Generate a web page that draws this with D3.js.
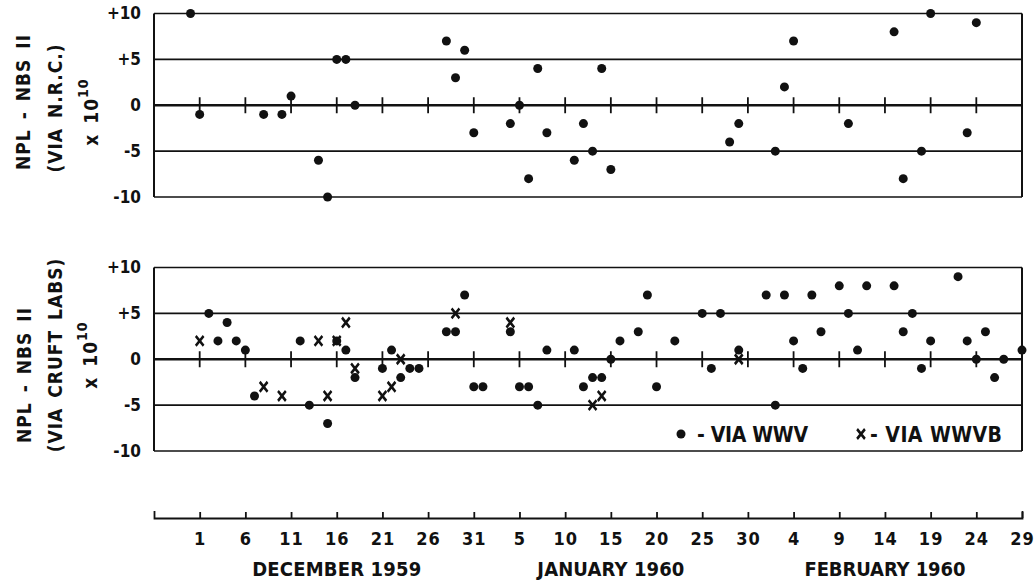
<!DOCTYPE html>
<html>
<head>
<meta charset="utf-8">
<script src="https://cdn.jsdelivr.net/npm/d3@7"></script>
<style>
  body { margin: 0; background: #fff; }
  svg text { font-family: "Liberation Sans Narrow", "DejaVu Sans Condensed", "Roboto Condensed", sans-serif; font-weight: bold; fill: #111; }
  .ytick text { font-size: 17px; }
  .xtick text { font-size: 18px; letter-spacing: 1px; }
  .title { font-size: 19px; letter-spacing: 1px; word-spacing: 3px; }
  .month { font-size: 20px; }
  .legend { font-size: 21px; }
</style>
</head>
<body>
<svg id="chart" width="1035" height="582"></svg>
<script>
// top panel: NPL - NBS II via N.R.C. (all WWV dots)
let nrcDates = ["1959-11-30","1959-12-01","1959-12-08","1959-12-10","1959-12-11","1959-12-14","1959-12-15","1959-12-16","1959-12-17","1959-12-18",
  "1959-12-28","1959-12-29","1959-12-30","1959-12-31","1960-01-04","1960-01-05","1960-01-06","1960-01-07","1960-01-08","1960-01-11",
  "1960-01-12","1960-01-13","1960-01-14","1960-01-15","1960-01-28","1960-01-29","1960-02-02","1960-02-03","1960-02-04","1960-02-10",
  "1960-02-15","1960-02-16","1960-02-18","1960-02-19","1960-02-23","1960-02-24"];
let nrcValues = [10,-1,-1,-1,1,-6,-10,5,5,0,
  7,3,6,-3,-2,0,-8,4,-3,-6,
  -2,-5,4,-7,-4,-2,-5,2,7,-2,
  8,-8,-5,10,-3,9];

// bottom panel: via Cruft Labs, WWV (dots)
let wwvDates = ["1959-12-02","1959-12-03","1959-12-04","1959-12-05","1959-12-06","1959-12-07","1959-12-12","1959-12-13","1959-12-15","1959-12-16",
  "1959-12-17","1959-12-18","1959-12-21","1959-12-22","1959-12-23","1959-12-24","1959-12-25","1959-12-28","1959-12-29","1959-12-30",
  "1959-12-31","1960-01-01","1960-01-04","1960-01-05","1960-01-06","1960-01-07","1960-01-08","1960-01-11","1960-01-12","1960-01-13",
  "1960-01-14","1960-01-15","1960-01-16","1960-01-18","1960-01-19","1960-01-20","1960-01-22","1960-01-25","1960-01-26","1960-01-27",
  "1960-01-29","1960-02-01","1960-02-02","1960-02-03","1960-02-04","1960-02-05","1960-02-06","1960-02-07","1960-02-09","1960-02-10",
  "1960-02-11","1960-02-12","1960-02-15","1960-02-16","1960-02-17","1960-02-18","1960-02-19","1960-02-22","1960-02-23","1960-02-24",
  "1960-02-25","1960-02-26","1960-02-27","1960-02-29"];
let wwvValues = [5,2,4,2,1,-4,2,-5,-7,2,
  1,-2,-1,1,-2,-1,-1,3,3,7,
  -3,-3,3,-3,-3,-5,1,1,-3,-2,
  -2,0,2,3,7,-3,2,5,-1,5,
  1,7,-5,7,2,-1,7,3,8,5,
  1,8,8,3,5,-1,2,9,2,0,
  3,-2,0,1];

// bottom panel: via Cruft Labs, WWVB (crosses)
let wwvbDates = ["1959-12-01","1959-12-08","1959-12-10","1959-12-14","1959-12-15","1959-12-16","1959-12-17","1959-12-18","1959-12-21","1959-12-22",
  "1959-12-23","1959-12-29","1960-01-04","1960-01-13","1960-01-14","1960-01-29"];
let wwvbValues = [2,-3,-4,2,-4,2,4,-1,-4,-3,
  0,5,4,-5,-4,0];

let yTickValues = [-10,-5,0,5,10];
let xTickDates = ["1959-12-01","1959-12-06","1959-12-11","1959-12-16","1959-12-21","1959-12-26","1959-12-31","1960-01-05","1960-01-10","1960-01-15",
  "1960-01-20","1960-01-25","1960-01-30","1960-02-04","1960-02-09","1960-02-14","1960-02-19","1960-02-24","1960-02-29"];
let months = ["DECEMBER 1959","JANUARY 1960","FEBRUARY 1960"];
let monthMid = ["1959-12-16","1960-01-15","1960-02-14"];
let monthWidth = [169,147,161];

let parse = d3.timeParse("%Y-%m-%d");
let svg = d3.select("#chart");
let ink = "#111";

let x = d3.scaleTime()
    .domain([parse("1959-11-26"), parse("1960-02-29")])
    .range([154, 1022]);
let yTop = d3.scaleLinear().domain([-10, 10]).range([197, 13.5]);
let yBot = d3.scaleLinear().domain([-10, 10]).range([451, 267.5]);

let ticks = xTickDates.map(parse);

let panel = (y) => {
    let g = svg.append("g");
    g.selectAll("line.h").data(yTickValues).join("line")
        .attr("x1", x.range()[0]).attr("x2", x.range()[1])
        .attr("y1", d => y(d)).attr("y2", d => y(d))
        .attr("stroke", ink).attr("stroke-width", d => d === 0 ? 2.4 : 1.6);
    g.selectAll("line.v").data(x.range()).join("line")
        .attr("x1", d => d).attr("x2", d => d)
        .attr("y1", y(10)).attr("y2", y(-10))
        .attr("stroke", ink).attr("stroke-width", 2);
    // small ticks across the zero line
    g.selectAll("line.t").data(ticks).join("line")
        .attr("x1", d => x(d)).attr("x2", d => x(d))
        .attr("y1", y(0) - 8).attr("y2", y(0) + 8)
        .attr("stroke", ink).attr("stroke-width", 1.8);
    g.append("g")
        .attr("class", "ytick")
        .attr("transform", `translate(${x.range()[0]},0)`)
        .call(d3.axisLeft(y).tickValues(yTickValues).tickSize(0).tickPadding(13)
            .tickFormat(d => d > 0 ? "+" + d : d < 0 ? "-" + Math.abs(d) : "0"))
        .call(a => a.select(".domain").remove())
        .attr("font-family", null).attr("font-size", null);
    return g;
};

let gTop = panel(yTop);
let gBot = panel(yBot);

let dots = (g, y, dates, values) => {
    g.selectAll("circle.m" + dates.length).data(dates.map((d, i) => [parse(d), values[i]])).join("circle")
        .attr("cx", d => x(d[0])).attr("cy", d => y(d[1]))
        .attr("r", 4.5).attr("fill", ink);
};
let cross = d3.symbol(d3.symbolX).size(42);
let crosses = (g, y, dates, values) => {
    g.selectAll("path.x").data(dates.map((d, i) => [parse(d), values[i]])).join("path")
        .attr("class", "x")
        .attr("d", cross)
        .attr("transform", d => `translate(${x(d[0])},${y(d[1])}) scale(1,1.25)`)
        .attr("fill", "none").attr("stroke", ink).attr("stroke-width", 2.4);
};

dots(gTop, yTop, nrcDates, nrcValues);
dots(gBot, yBot, wwvDates, wwvValues);
crosses(gBot, yBot, wwvbDates, wwvbValues);

// rotated y titles
let title = (tx, ty, str) => svg.append("text").attr("class", "title")
    .attr("transform", `translate(${tx},${ty}) rotate(-90)`)
    .attr("text-anchor", "middle").text(str);
let power = (tx, ty) => {
    let t = svg.append("text").attr("class", "title")
        .attr("transform", `translate(${tx},${ty}) rotate(-90)`)
        .attr("text-anchor", "middle");
    t.append("tspan").text("x 10");
    t.append("tspan").attr("dy", -10).style("font-size", "14px").text("10");
};
title(30, 102, "NPL - NBS II");
title(62, 108, "(VIA N.R.C.)");
power(98, 112);
title(31, 375, "NPL - NBS II");
title(62, 355, "(VIA CRUFT LABS)");
power(97, 355);

// bottom date axis
svg.append("g")
    .attr("class", "xtick")
    .attr("transform", "translate(0,518)")
    .call(d3.axisBottom(x).tickValues(ticks).tickSizeInner(-6).tickSizeOuter(-7).tickPadding(14)
        .tickFormat(d3.timeFormat("%-d")))
    .attr("font-family", null).attr("font-size", null)
    .call(a => a.selectAll("path,line").attr("stroke", ink).attr("stroke-width", 1.8));

svg.selectAll("text.month").data(months).join("text")
    .attr("class", "month")
    .attr("x", (d, i) => x(parse(monthMid[i])) - monthWidth[i] / 2)
    .attr("y", 576)
    .attr("textLength", (d, i) => monthWidth[i])
    .attr("lengthAdjust", "spacing")
    .text(d => d);

// legend
let lg = svg.append("g");
lg.append("circle").attr("cx", 681).attr("cy", 434).attr("r", 4.5).attr("fill", ink);
lg.append("text").attr("class", "legend").attr("x", 697).attr("y", 442)
    .attr("textLength", 111).attr("lengthAdjust", "spacing").text("- VIA WWV");
lg.append("path").attr("d", cross)
    .attr("transform", "translate(861,434) scale(1,1.25)")
    .attr("fill", "none").attr("stroke", ink).attr("stroke-width", 2.4);
lg.append("text").attr("class", "legend").attr("x", 870).attr("y", 442)
    .attr("textLength", 132).attr("lengthAdjust", "spacing").text("- VIA WWVB");
</script>
</body>
</html>
